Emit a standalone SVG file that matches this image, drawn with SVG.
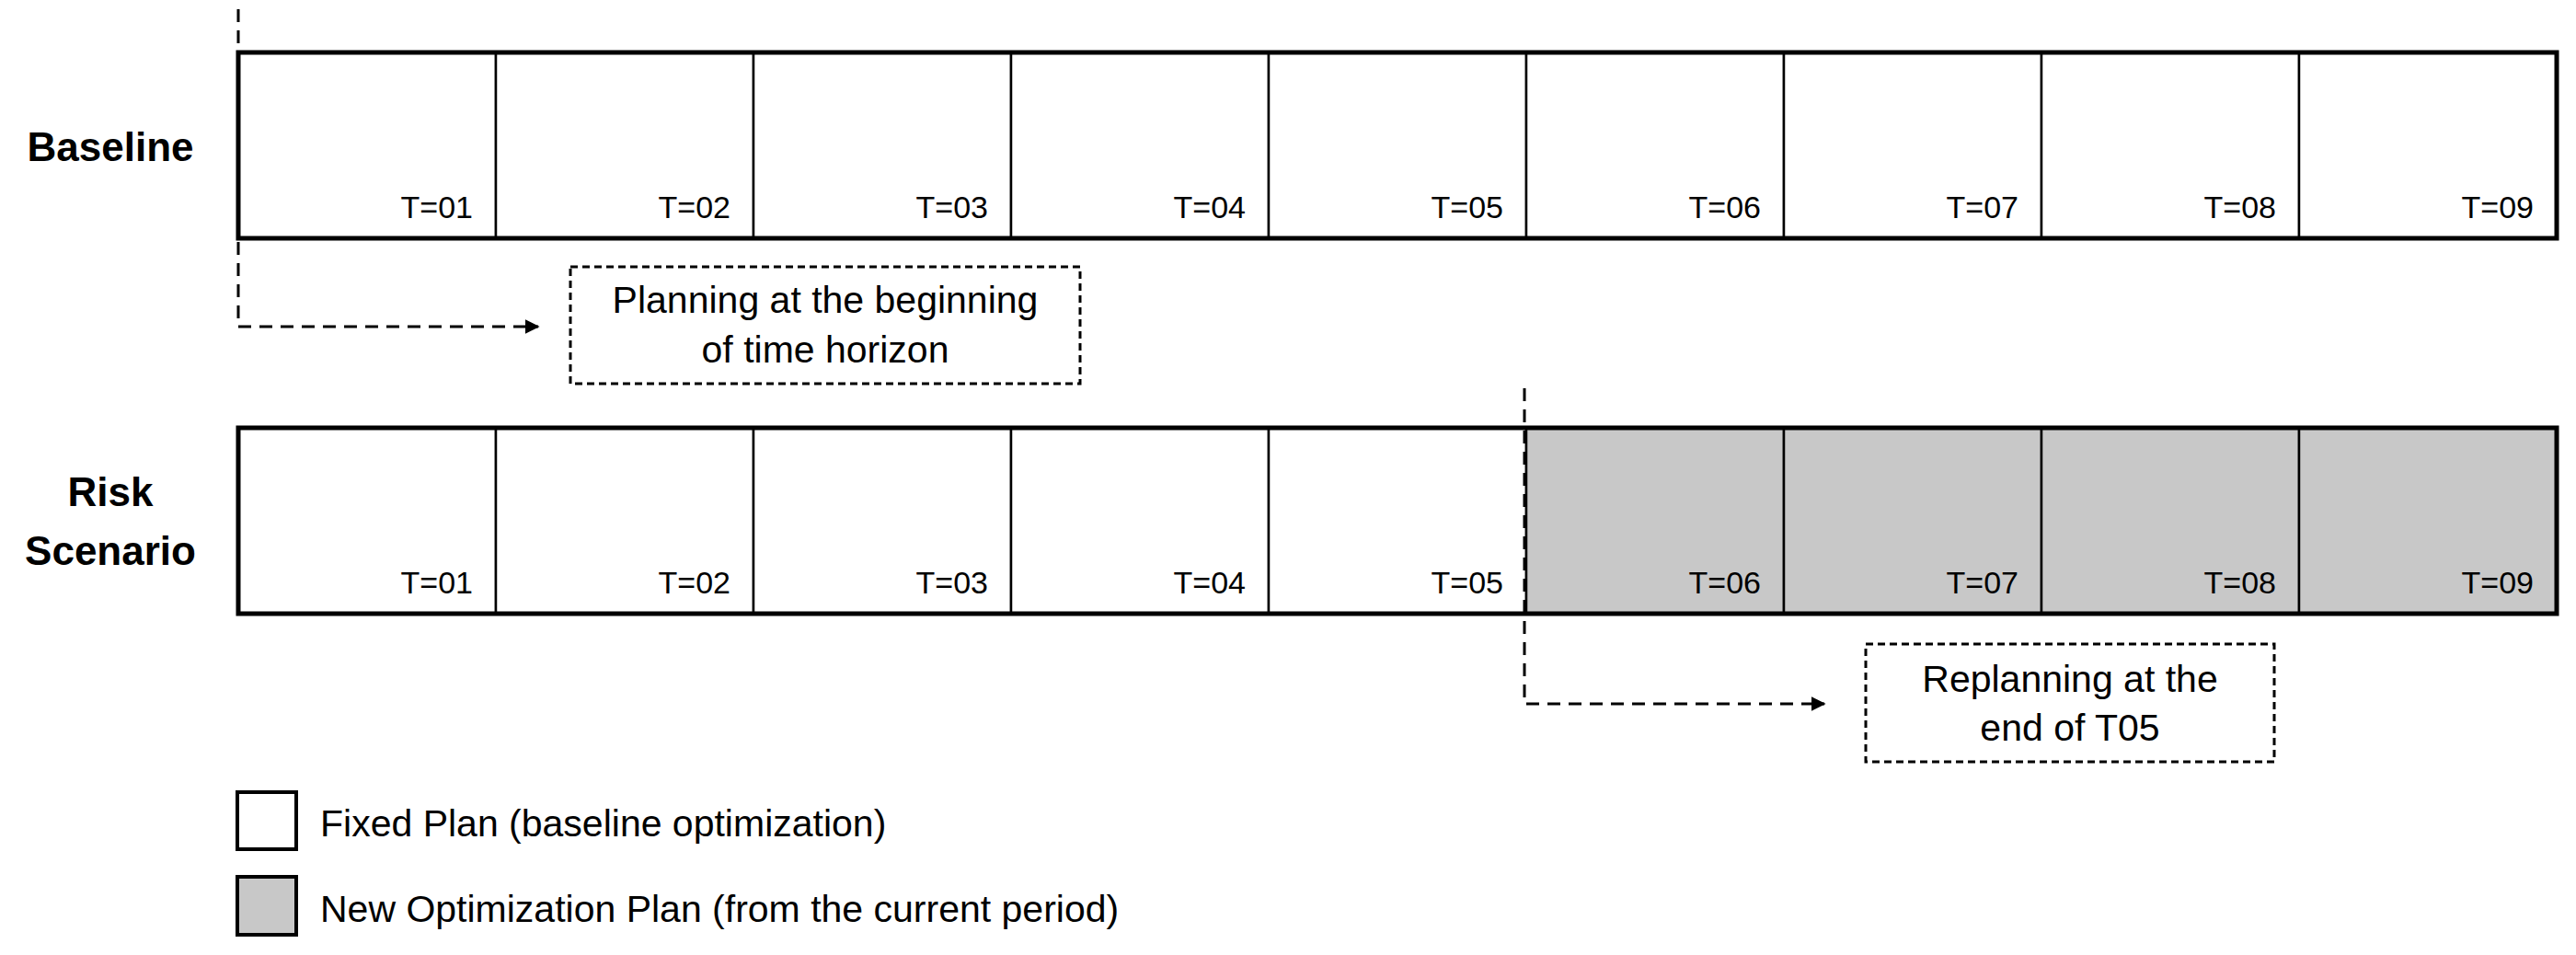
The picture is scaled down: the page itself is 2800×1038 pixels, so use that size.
<svg xmlns="http://www.w3.org/2000/svg" width="2800" height="1038" viewBox="0 0 2800 1038">
<style>
text{font-family:"Liberation Sans",Arial,sans-serif;fill:#000}
.lbl{font-size:44px;font-weight:bold;text-anchor:middle}
.t{font-size:34px;text-anchor:end}
.c{font-size:41px;text-anchor:middle}
.lg{font-size:41px}
.cell{fill:#fff;stroke:#000;stroke-width:2.5}
.g{fill:#c8c8c8}
.outer{fill:none;stroke:#000;stroke-width:5}
.dash{fill:none;stroke:#000;stroke-width:3;stroke-dasharray:14 9}
.dbox{fill:#fff;stroke:#000;stroke-width:3;stroke-dasharray:8 5}
</style>
<defs>
<marker id="ah2" viewBox="0 0 10 10" markerWidth="16" markerHeight="20" refX="9" refY="5" orient="auto" markerUnits="userSpaceOnUse"><path d="M0,0L10,5L0,10z" fill="#000"/></marker></defs>
<text class="lbl" x="120" y="175">Baseline</text>
<text class="lbl" x="120" y="550">Risk</text>
<text class="lbl" x="120" y="614">Scenario</text>
<g id="baseline">
<rect class="cell" x="259" y="57" width="280" height="202"/><text class="t" x="514" y="237">T=01</text>
<rect class="cell" x="539" y="57" width="280" height="202"/><text class="t" x="794" y="237">T=02</text>
<rect class="cell" x="819" y="57" width="280" height="202"/><text class="t" x="1074" y="237">T=03</text>
<rect class="cell" x="1099" y="57" width="280" height="202"/><text class="t" x="1354" y="237">T=04</text>
<rect class="cell" x="1379" y="57" width="280" height="202"/><text class="t" x="1634" y="237">T=05</text>
<rect class="cell" x="1659" y="57" width="280" height="202"/><text class="t" x="1914" y="237">T=06</text>
<rect class="cell" x="1939" y="57" width="280" height="202"/><text class="t" x="2194" y="237">T=07</text>
<rect class="cell" x="2219" y="57" width="280" height="202"/><text class="t" x="2474" y="237">T=08</text>
<rect class="cell" x="2499" y="57" width="280" height="202"/><text class="t" x="2754" y="237">T=09</text>
<rect class="outer" x="259" y="57" width="2520" height="202"/>
</g>
<g id="risk">
<rect class="cell" x="259" y="465" width="280" height="202"/><text class="t" x="514" y="645">T=01</text>
<rect class="cell" x="539" y="465" width="280" height="202"/><text class="t" x="794" y="645">T=02</text>
<rect class="cell" x="819" y="465" width="280" height="202"/><text class="t" x="1074" y="645">T=03</text>
<rect class="cell" x="1099" y="465" width="280" height="202"/><text class="t" x="1354" y="645">T=04</text>
<rect class="cell" x="1379" y="465" width="280" height="202"/><text class="t" x="1634" y="645">T=05</text>
<rect class="cell g" x="1659" y="465" width="280" height="202"/><text class="t" x="1914" y="645">T=06</text>
<rect class="cell g" x="1939" y="465" width="280" height="202"/><text class="t" x="2194" y="645">T=07</text>
<rect class="cell g" x="2219" y="465" width="280" height="202"/><text class="t" x="2474" y="645">T=08</text>
<rect class="cell g" x="2499" y="465" width="280" height="202"/><text class="t" x="2754" y="645">T=09</text>
<rect class="outer" x="259" y="465" width="2520" height="202"/>
</g>
<g id="connectors">
<path class="dash" d="M259,10V355H585" marker-end="url(#ah2)"/>
<path class="dash" d="M1657,422V765H1983" marker-end="url(#ah2)"/>
</g>
<g id="note1">
<rect class="dbox" x="620" y="290" width="554" height="127"/>
<text class="c" x="897" y="340">Planning at the beginning</text>
<text class="c" x="897" y="394">of time horizon</text>
</g>
<g id="note2">
<rect class="dbox" x="2028" y="700" width="444" height="128"/>
<text class="c" x="2250" y="752">Replanning at the</text>
<text class="c" x="2250" y="805">end of T05</text>
</g>
<g id="legend">
<rect x="258" y="861" width="64" height="62" fill="#fff" stroke="#000" stroke-width="4"/>
<text class="lg" x="348" y="909">Fixed Plan (baseline optimization)</text>
<rect x="258" y="953" width="64" height="63" fill="#c8c8c8" stroke="#000" stroke-width="4"/>
<text class="lg" x="348" y="1002">New Optimization Plan (from the current period)</text>
</g>
</svg>
